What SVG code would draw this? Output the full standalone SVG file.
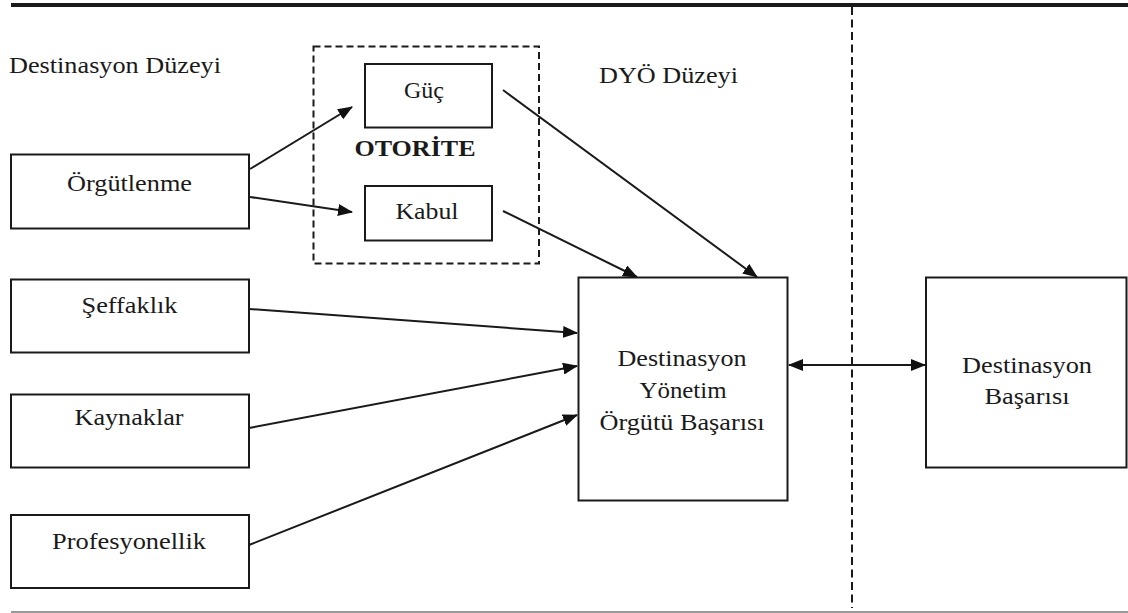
<svg xmlns="http://www.w3.org/2000/svg" width="1128" height="613" viewBox="0 0 1128 613" font-family="'Liberation Serif', 'Times New Roman', serif" font-size="24">
<style>
  .box { fill: #fff; stroke: #1a1a1a; stroke-width: 2; }
  .dbox { fill: none; stroke: #1a1a1a; stroke-width: 2; stroke-dasharray: 7 4; }
  .t { text-anchor: middle; fill: #1a1a1a; }
  .l { fill: #1a1a1a; }
  .b { font-weight: bold; }
  .c { stroke: #1a1a1a; stroke-width: 2; fill: none; marker-end: url(#ah); }
</style>
<defs>
  <marker id="ah" markerUnits="userSpaceOnUse" markerWidth="15" markerHeight="12" refX="14" refY="6" orient="auto-start-reverse">
    <path d="M0,0 L15,6 L0,12 z" fill="#111"/>
  </marker>
</defs>
<rect width="1128" height="613" fill="#fff"/>
<g id="frame">
  <line x1="11" y1="5" x2="1128" y2="5" stroke="#1a1a1a" stroke-width="4"/>
  <line x1="11" y1="612" x2="1128" y2="612" stroke="#999" stroke-width="2"/>
  <line x1="852" y1="7" x2="852" y2="608" stroke="#1a1a1a" stroke-width="2" stroke-dasharray="8 4.5"/>
  <text class="l" x="9" y="73" textLength="212" lengthAdjust="spacingAndGlyphs">Destinasyon Düzeyi</text>
  <text class="l" x="599" y="83" textLength="139" lengthAdjust="spacingAndGlyphs">DYÖ Düzeyi</text>
</g>
<g id="otorite">
  <rect class="dbox" x="313.5" y="46.5" width="225.5" height="217"/>
  <text class="t b" x="415" y="156" textLength="121" lengthAdjust="spacingAndGlyphs">OTORİTE</text>
</g>
<g id="guc">
  <rect class="box" x="365" y="64" width="127" height="63.5"/>
  <text class="t" x="424" y="97.5">Güç</text>
</g>
<g id="kabul">
  <rect class="box" x="365" y="186" width="127" height="54.5"/>
  <text class="t" x="427" y="219" textLength="63" lengthAdjust="spacingAndGlyphs">Kabul</text>
</g>
<g id="orgutlenme">
  <rect class="box" x="11" y="154.5" width="238" height="74"/>
  <text class="t" x="129.5" y="190.5" textLength="125" lengthAdjust="spacingAndGlyphs">Örgütlenme</text>
</g>
<g id="seffaflik">
  <rect class="box" x="11" y="279.5" width="238" height="73"/>
  <text class="t" x="129.5" y="313" textLength="96" lengthAdjust="spacingAndGlyphs">Şeffaklık</text>
</g>
<g id="kaynaklar">
  <rect class="box" x="11" y="394.5" width="238" height="73"/>
  <text class="t" x="129" y="425" textLength="109" lengthAdjust="spacingAndGlyphs">Kaynaklar</text>
</g>
<g id="profesyonellik">
  <rect class="box" x="11" y="515" width="238" height="73"/>
  <text class="t" x="129" y="549" textLength="154" lengthAdjust="spacingAndGlyphs">Profesyonellik</text>
</g>
<g id="dyo">
  <rect class="box" x="578.5" y="277.5" width="209" height="223"/>
  <text class="t" x="682" y="366" textLength="129" lengthAdjust="spacingAndGlyphs">Destinasyon</text>
  <text class="t" x="683" y="397.5" textLength="87" lengthAdjust="spacingAndGlyphs">Yönetim</text>
  <text class="t" x="682" y="429.5" textLength="165" lengthAdjust="spacingAndGlyphs">Örgütü Başarısı</text>
</g>
<g id="basari">
  <rect class="box" x="926" y="277.5" width="200.5" height="190"/>
  <text class="t" x="1027" y="372.5" textLength="130" lengthAdjust="spacingAndGlyphs">Destinasyon</text>
  <text class="t" x="1027" y="403.5" textLength="85" lengthAdjust="spacingAndGlyphs">Başarısı</text>
</g>
<g id="connectors">
  <line class="c" x1="250" y1="169" x2="352" y2="107"/>
  <line class="c" x1="250" y1="197" x2="352" y2="212"/>
  <line class="c" x1="503" y1="90" x2="757" y2="277"/>
  <line class="c" x1="503" y1="211" x2="637" y2="277"/>
  <line class="c" x1="249" y1="309" x2="577" y2="333"/>
  <line class="c" x1="249" y1="428" x2="577" y2="366"/>
  <line class="c" x1="249" y1="545" x2="577" y2="415"/>
  <line class="c" x1="789" y1="365" x2="925" y2="365" marker-start="url(#ah)"/>
</g>
</svg>
